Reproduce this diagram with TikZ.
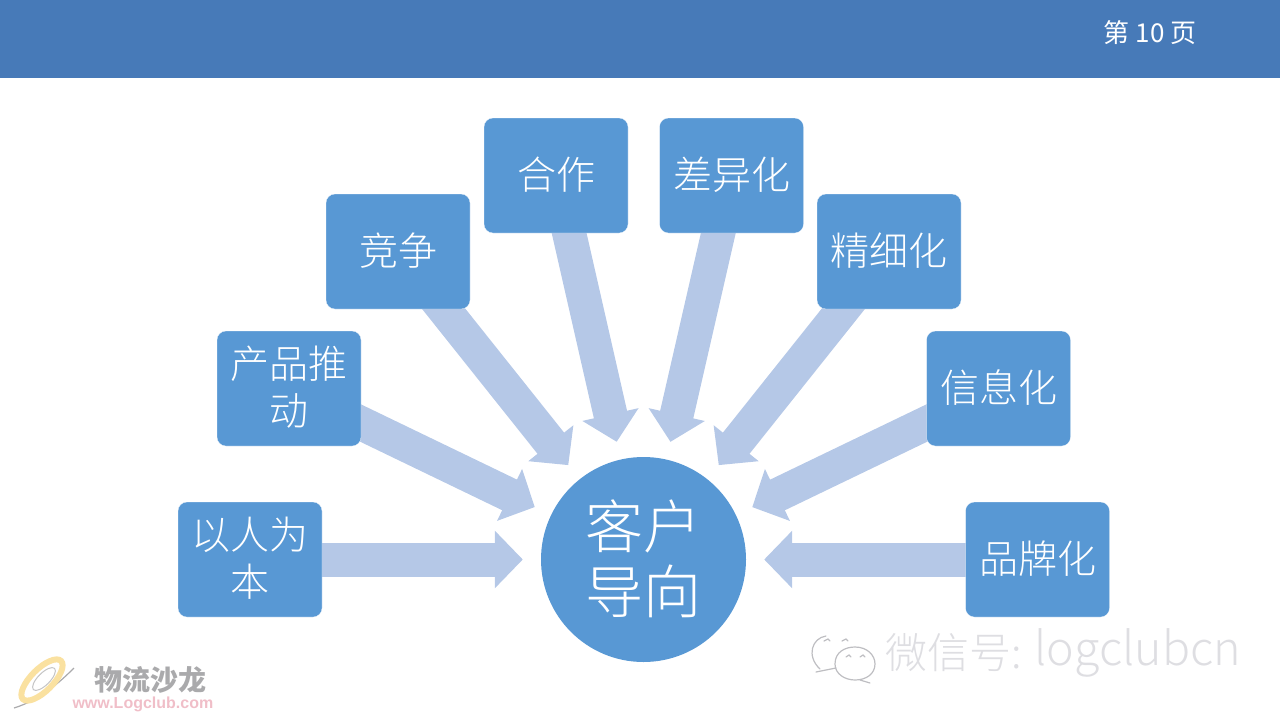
\documentclass[tikz,border=0pt]{standalone}
\usepackage{fontspec}
\usepackage{xcolor}
\setmainfont{Liberation Sans}
\newfontfamily\cjk{Noto Sans CJK SC}
\newfontfamily\cjklight{Noto Sans CJK SC Light}
\usetikzlibrary{arrows.meta, positioning, backgrounds}
\definecolor{headerblue}{RGB}{71,122,184}
\definecolor{boxblue}{RGB}{88,152,212}
\definecolor{arrowblue}{RGB}{181,200,231}
\definecolor{markgray}{RGB}{222,222,226}
\definecolor{bubblegray}{RGB}{190,190,194}
\definecolor{logogray}{RGB}{170,170,172}
\definecolor{logopink}{RGB}{240,190,200}
\definecolor{logoyellow}{RGB}{250,225,160}
\tikzset{
  topicbox/.style={draw=white, very thin, fill=boxblue, rounded corners=9pt, minimum width=144pt,
    minimum height=115pt, inner sep=0pt, text=white, font=\cjklight\fontsize{39}{47}\selectfont, align=center},
  hubnode/.style={circle, fill=boxblue, minimum size=205pt, inner sep=0pt, text=white,
    font=\cjklight\fontsize{58}{65}\selectfont, align=center},
  flowarrow/.style={arrowblue, line width=34pt, shorten >=18pt,
    -{Triangle[length=28pt, width=56pt]}},
  bubbleline/.style={bubblegray, line width=1.2pt, line cap=round},
}

\begin{document}
\begin{tikzpicture}[x=1pt, y=-1pt]
  \useasboundingbox (0,0) rectangle (1280,720);

  % Header band
  \fill[headerblue] (0,0) rectangle (1280,78);
  \node[text=white, font=\cjk\fontsize{26}{30}\selectfont] (pagenum) at (1150,33) {第 10 页};

  % Hub (the negative skip lifts the text a little)
  \node[hubnode] (hub) at (643.5,559.5) {客户\\导向\\[-59pt]};

  % Topic boxes
  \node[topicbox] (people)  at (250,559.5)  {以人为\\本\\[-42pt]};
  \node[topicbox] (product) at (289,388.5)  {产品推\\动\\[-42pt]};
  \node[topicbox] (compete) at (398,251.5)  {竞争\\[-42pt]};
  \node[topicbox] (cooper)  at (556,175.5)  {合作\\[-42pt]};
  \node[topicbox] (differ)  at (731.5,175.5) {差异化\\[-42pt]};
  \node[topicbox] (refine)  at (889,251.5)  {精细化\\[-42pt]};
  \node[topicbox] (inform)  at (998.5,388.5) {信息化\\[-42pt]};
  \node[topicbox] (brand)   at (1037.5,559.5) {品牌化\\[-42pt]};

  % Arrows run from box centres, behind the boxes
  \begin{scope}[on background layer]
    \draw[flowarrow] (people.center)  -- (hub);
    \draw[flowarrow] (product.center) -- (hub);
    \draw[flowarrow] (compete.center) -- (hub);
    \draw[flowarrow] (cooper.center)  -- (hub);
    \draw[flowarrow] (differ.center)  -- (hub);
    \draw[flowarrow] (refine.center)  -- (hub);
    \draw[flowarrow] (inform.center)  -- (hub);
    \draw[flowarrow] (brand.center)   -- (hub);
  \end{scope}

  % Logo, bottom left
  \draw[logogray, line width=1.2pt] (14,708) .. controls (40,700) and (60,682) .. (74,668);
  \draw[logoyellow, line width=6pt, rotate around={45:(42,680)}] (42,680) ellipse (27 and 11);
  \draw[logogray!70, line width=1pt, rotate around={45:(44,679)}] (44,679) ellipse (15 and 6);
  \node[text=logogray, font=\cjk\bfseries\fontsize{28}{30}\selectfont, anchor=west] (logoname) at (91,680) {物流沙龙};
  \node[text=logopink, font=\bfseries\fontsize{16}{16}\selectfont, anchor=west] (logourl) at (69,704) {www.Logclub.com};

  % WeChat mark, bottom right
  \draw[bubbleline] (820,669) .. controls (806,656) and (812,638) .. (826,636);
  \draw[bubbleline] (816,672) -- (836,668);
  \draw[bubbleline] (835,664) .. controls (835,652) and (845,647) .. (855,647)
    .. controls (867,647) and (875,655) .. (875,664)
    .. controls (875,674) and (866,680) .. (855,680)
    .. controls (845,680) and (835,674) .. (835,664);
  \draw[bubbleline] (860,680) -- (870,683);
  \draw[bubbleline] (824,641) -- (828,639) -- (830,641);
  \draw[bubbleline] (842,641) -- (846,639) -- (848,641);
  \draw[bubbleline] (846,657) -- (849,655) -- (851,657);
  \draw[bubbleline] (860,657) -- (863,655) -- (865,657);
  \node[text=markgray, font=\cjklight\fontsize{42}{48}\selectfont, anchor=west] (wxname) at (882,653) {微信号:};
  \node[text=markgray, font=\cjklight\fontsize{46.5}{48}\selectfont, anchor=west] (wxid) at (1031,653) {logclubcn};
\end{tikzpicture}
\end{document}
